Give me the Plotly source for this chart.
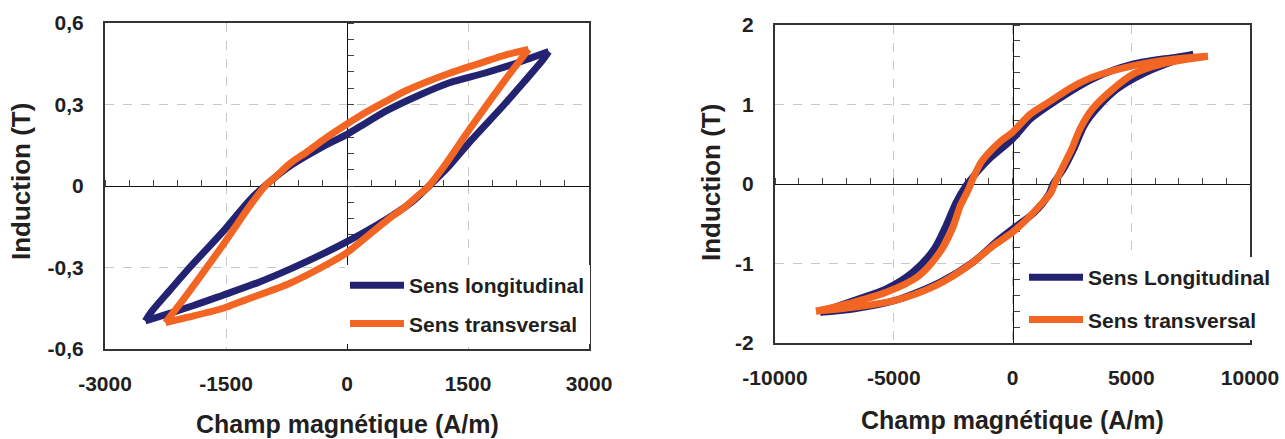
import plotly.graph_objects as go

# ---------------- data ----------------
# Left chart : H (A/m), B (T) ; each loop = descending branch + ascending branch
left_long_desc_H = [2500, 2250, 2030, 1700, 1270, 900, 510, 250, 0, -300, -700, -1000, -1200, -1530, -1950, -2200, -2430, -2500]
left_long_desc_B = [0.495, 0.468, 0.445, 0.415, 0.38, 0.335, 0.28, 0.235, 0.19, 0.145, 0.075, 0.005, -0.05, -0.165, -0.3, -0.385, -0.465, -0.497]
left_long_asc_H = [-2500, -2200, -1900, -1530, -1100, -700, -300, 0, 500, 800, 1000, 1270, 1530, 1950, 2200, 2430, 2500]
left_long_asc_B = [-0.497, -0.469, -0.44, -0.401, -0.355, -0.305, -0.25, -0.205, -0.12, -0.06, -0.005, 0.075, 0.165, 0.3, 0.385, 0.465, 0.495]

left_trans_desc_H = [2250, 2000, 1775, 1270, 763, 533, 256, 0, -293, -500, -707, -900, -1000, -1203, -1534, -1947, -2100, -2250]
left_trans_desc_B = [0.503, 0.485, 0.464, 0.415, 0.355, 0.32, 0.275, 0.228, 0.17, 0.125, 0.083, 0.03, 0.005, -0.072, -0.215, -0.385, -0.445, -0.503]
left_trans_asc_H = [-2250, -2000, -1534, -1264, -707, -256, 0, 293, 500, 707, 900, 1000, 1203, 1534, 1947, 2100, 2250]
left_trans_asc_B = [-0.503, -0.485, -0.45, -0.42, -0.358, -0.29, -0.245, -0.175, -0.125, -0.08, -0.03, -0.005, 0.072, 0.215, 0.385, 0.445, 0.503]

# Right chart : H (A/m), B (T)
right_long_desc_H = [7617, 6836, 5098, 3363, 1625, 757, 0, -979, -1500, -1950, -2370, -2800, -3300, -4200, -5321, -6710, -8100]
right_long_desc_B = [1.63, 1.593, 1.51, 1.32, 1.006, 0.818, 0.566, 0.314, 0.147, -0.02, -0.23, -0.524, -0.818, -1.11, -1.32, -1.468, -1.614]
right_long_asc_H = [-8100, -6710, -4975, -3063, -1675, -633, 0, 930, 1540, 1712, 2147, 2582, 3016, 3537, 4406, 5620, 6836, 7617]
right_long_asc_B = [-1.614, -1.572, -1.468, -1.237, -0.985, -0.713, -0.566, -0.356, -0.126, 0.0, 0.189, 0.44, 0.734, 0.943, 1.195, 1.405, 1.551, 1.63]

right_trans_desc_H = [8225, 6836, 5098, 3363, 2495, 1625, 757, 0, -470, -979, -1325, -1675, -1848, -2195, -2540, -3063, -3933, -5321, -6710, -8270]
right_trans_desc_B = [1.606, 1.572, 1.489, 1.342, 1.216, 1.048, 0.88, 0.65, 0.545, 0.398, 0.273, 0.063, -0.063, -0.273, -0.566, -0.86, -1.153, -1.363, -1.489, -1.60]
right_trans_asc_H = [-8270, -6710, -4975, -3237, -1848, -806, 0, 757, 1278, 1625, 1799, 2147, 2495, 2842, 3363, 4232, 5098, 6313, 8225]
right_trans_asc_B = [-1.60, -1.551, -1.468, -1.279, -1.027, -0.776, -0.608, -0.398, -0.23, -0.105, 0.021, 0.231, 0.44, 0.692, 0.943, 1.195, 1.384, 1.51, 1.606]

left_xticks = [-3000, -1500, 0, 1500, 3000]
left_yticks = [-0.6, -0.3, 0, 0.3, 0.6]
left_ytext = ["-0,6", "-0,3", "0", "0,3", "0,6"]
right_xticks = [-10000, -5000, 0, 5000, 10000]
right_yticks = [-2, -1, 0, 1, 2]
right_ytext = ["-2", "-1", "0", "1", "2"]

names_left = ["Sens longitudinal", "Sens transversal"]
names_right = ["Sens Longitudinal", "Sens transversal"]
x_title = "Champ magnétique (A/m)"
y_title = "Induction (T)"

# ---------------- styling ----------------
W, H = 1285, 439
BLUE = "#232372"
ORANGE = "#F26522"
TXT = "#231f20"
FONT = "Liberation Sans, Arial, sans-serif"


def px_x(v):
    return v / W


def px_y(v):
    return 1 - v / H


L_dom_x = [px_x(105), px_x(589)]
L_dom_y = [px_y(349), px_y(23)]
R_dom_x = [px_x(775), px_x(1250)]
R_dom_y = [px_y(343), px_y(25)]
L_rx, L_ry = [-3000, 3000], [-0.6, 0.6]
R_rx, R_ry = [-10000, 10000], [-2, 2]


def zero_pos(dom, rng):
    return dom[0] + (0 - rng[0]) / (rng[1] - rng[0]) * (dom[1] - dom[0])


fig = go.Figure()
LW = 7


def add_loop(hd, bd, ha, ba, name, color, xa, ya, leg, grp):
    fig.add_trace(go.Scatter(x=hd, y=bd, mode="lines", name=name,
                             line=dict(color=color, width=LW, shape="spline", smoothing=0.8),
                             xaxis=xa, yaxis=ya, legend=leg, legendgroup=grp))
    fig.add_trace(go.Scatter(x=ha, y=ba, mode="lines", name=name, showlegend=False,
                             line=dict(color=color, width=LW, shape="spline", smoothing=0.8),
                             xaxis=xa, yaxis=ya, legend=leg, legendgroup=grp))


add_loop(left_long_desc_H, left_long_desc_B, left_long_asc_H, left_long_asc_B,
         names_left[0], BLUE, "x", "y", "legend", "a")
add_loop(left_trans_desc_H, left_trans_desc_B, left_trans_asc_H, left_trans_asc_B,
         names_left[1], ORANGE, "x", "y", "legend", "b")
add_loop(right_long_desc_H, right_long_desc_B, right_long_asc_H, right_long_asc_B,
         names_right[0], BLUE, "x2", "y2", "legend2", "c")
add_loop(right_trans_desc_H, right_trans_desc_B, right_trans_asc_H, right_trans_asc_B,
         names_right[1], ORANGE, "x2", "y2", "legend2", "d")

# carriers for the zero axes with minor ticks
fig.add_trace(go.Scatter(x=[None], y=[None], xaxis="x3", yaxis="y3", showlegend=False, hoverinfo="skip"))
fig.add_trace(go.Scatter(x=[None], y=[None], xaxis="x4", yaxis="y4", showlegend=False, hoverinfo="skip"))

tickfont = dict(family=FONT, size=21, color=TXT, weight="bold")


def main_x(dom, rng, tv, anchor):
    return dict(domain=dom, range=rng, tickvals=tv, ticktext=[str(v) for v in tv],
                showgrid=True, gridcolor="#c8c8c8", griddash="dash", gridwidth=1,
                showline=True, mirror=True, linecolor="#333333", linewidth=2,
                ticks="", zeroline=False, tickfont=tickfont, anchor=anchor,
                ticklabelstandoff=15, automargin=False, fixedrange=True)


def main_y(dom, rng, tv, tt, anchor):
    return dict(domain=dom, range=rng, tickvals=tv, ticktext=tt,
                showgrid=True, gridcolor="#c8c8c8", griddash="dash", gridwidth=1,
                showline=True, mirror=True, linecolor="#333333", linewidth=2,
                ticks="", zeroline=False, tickfont=tickfont, anchor=anchor,
                ticklabelstandoff=15, automargin=False, fixedrange=True)


def zero_x(over, rng, dtick, pos):
    return dict(overlaying=over, anchor="free", position=pos, range=rng, side="top",
                tick0=0, dtick=dtick, ticks="outside", ticklen=6, tickwidth=1, tickcolor="#444444",
                showticklabels=False, showline=True, linecolor="#111111", linewidth=1,
                showgrid=False, zeroline=False, layer="below traces", fixedrange=True)


def zero_y(over, rng, dtick, pos):
    return dict(overlaying=over, anchor="free", position=pos, range=rng, side="right",
                tick0=0, dtick=dtick, ticks="outside", ticklen=6, tickwidth=1, tickcolor="#444444",
                showticklabels=False, showline=True, linecolor="#111111", linewidth=1,
                showgrid=False, zeroline=False, layer="below traces", fixedrange=True)


legfont = dict(family=FONT, size=21, color=TXT, weight="bold")

fig.update_layout(
    width=W, height=H,
    margin=dict(l=0, r=0, t=0, b=0, autoexpand=False),
    paper_bgcolor="white", plot_bgcolor="white",
    xaxis=main_x(L_dom_x, L_rx, left_xticks, "y"),
    yaxis=main_y(L_dom_y, L_ry, left_yticks, left_ytext, "x"),
    xaxis2=main_x(R_dom_x, R_rx, right_xticks, "y2"),
    yaxis2=main_y(R_dom_y, R_ry, right_yticks, right_ytext, "x2"),
    xaxis3=zero_x("x", L_rx, 300, zero_pos(L_dom_y, L_ry)),
    yaxis3=zero_y("y", L_ry, 0.06, zero_pos(L_dom_x, L_rx)),
    xaxis4=zero_x("x2", R_rx, 1000, zero_pos(R_dom_y, R_ry)),
    yaxis4=zero_y("y2", R_ry, 0.2, zero_pos(R_dom_x, R_rx)),
    legend=dict(x=px_x(345), y=px_y(265), xanchor="left", yanchor="top", bgcolor="white",
                borderwidth=0, font=legfont, itemwidth=54, traceorder="grouped", tracegroupgap=8),
    legend2=dict(x=px_x(1024), y=px_y(257), xanchor="left", yanchor="top", bgcolor="white",
                 borderwidth=0, font=legfont, itemwidth=54, traceorder="grouped", tracegroupgap=12),
    showlegend=True,
    hovermode=False,
)

for xc, yc in [(347, 424), (1012, 420)]:
    fig.add_annotation(text=x_title, x=px_x(xc), y=px_y(yc), xref="paper", yref="paper",
                       showarrow=False, xanchor="center", yanchor="middle",
                       font=dict(family=FONT, size=25, color=TXT, weight="bold"))
for xc, yc in [(21, 182), (711, 183)]:
    fig.add_annotation(text=y_title, x=px_x(xc), y=px_y(yc), xref="paper", yref="paper",
                       showarrow=False, xanchor="center", yanchor="middle", textangle=-90,
                       font=dict(family=FONT, size=26, color=TXT, weight="bold"))

# remove the default page margin so the figure fills the 1285x439 window exactly
fig.write_html("out.html",
               config={"displayModeBar": False},
               post_script="document.body.style.margin='0';document.body.style.overflow='hidden';")
